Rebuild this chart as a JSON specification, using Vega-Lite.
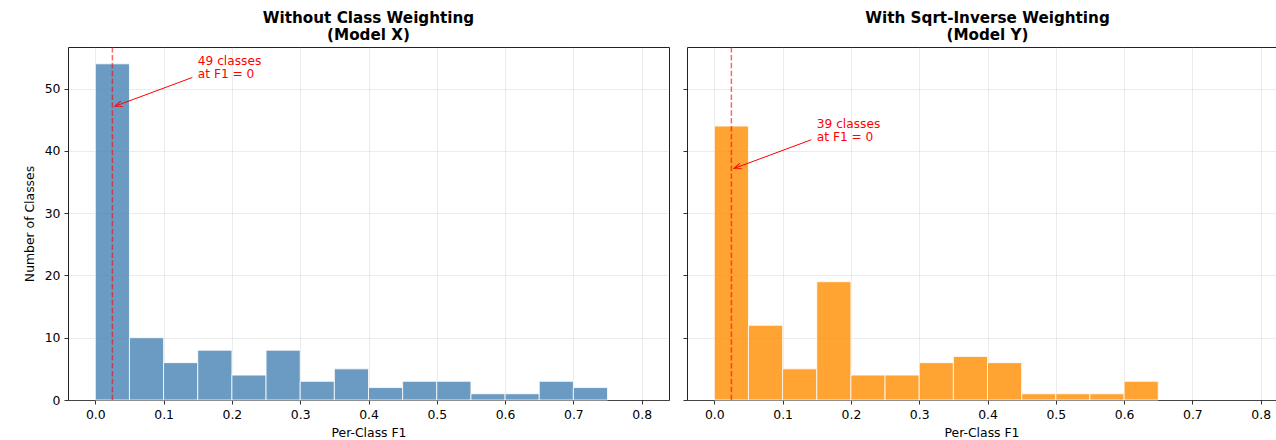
{
  "$schema": "https://vega.github.io/schema/vega-lite/v6.json",
  "padding": {"left": 22, "top": 10, "right": 0, "bottom": 0},
  "background": "white",
  "spacing": 18,
  "bounds": "flush",
  "config": {
    "font": "DejaVu Sans",
    "view": {"stroke": "#222", "strokeWidth": 1},
    "axis": {
      "domain": false,
      "tickColor": "#000",
      "tickSize": 4,
      "tickWidth": 0.8,
      "labelFontSize": 12.4,
      "labelColor": "#000",
      "labelFont": "DejaVu Sans",
      "titleFont": "DejaVu Sans",
      "titleFontSize": 12.4,
      "titleFontWeight": "normal",
      "titleColor": "#000",
      "gridColor": "#b0b0b0",
      "gridOpacity": 0.3,
      "gridWidth": 0.8,
      "labelPadding": 4
    },
    "title": {"font": "DejaVu Sans", "fontSize": 15.2, "fontWeight": "bold", "color": "#000", "lineHeight": 17, "offset": 3}
  },
  "datasets": {
    "modelX": [
      {"bin_start": 0.0, "bin_end": 0.05, "count": 54},
      {"bin_start": 0.05, "bin_end": 0.1, "count": 10},
      {"bin_start": 0.1, "bin_end": 0.15, "count": 6},
      {"bin_start": 0.15, "bin_end": 0.2, "count": 8},
      {"bin_start": 0.2, "bin_end": 0.25, "count": 4},
      {"bin_start": 0.25, "bin_end": 0.3, "count": 8},
      {"bin_start": 0.3, "bin_end": 0.35, "count": 3},
      {"bin_start": 0.35, "bin_end": 0.4, "count": 5},
      {"bin_start": 0.4, "bin_end": 0.45, "count": 2},
      {"bin_start": 0.45, "bin_end": 0.5, "count": 3},
      {"bin_start": 0.5, "bin_end": 0.55, "count": 3},
      {"bin_start": 0.55, "bin_end": 0.6, "count": 1},
      {"bin_start": 0.6, "bin_end": 0.65, "count": 1},
      {"bin_start": 0.65, "bin_end": 0.7, "count": 3},
      {"bin_start": 0.7, "bin_end": 0.75, "count": 2}
    ],
    "modelY": [
      {"bin_start": 0.0, "bin_end": 0.05, "count": 44},
      {"bin_start": 0.05, "bin_end": 0.1, "count": 12},
      {"bin_start": 0.1, "bin_end": 0.15, "count": 5},
      {"bin_start": 0.15, "bin_end": 0.2, "count": 19},
      {"bin_start": 0.2, "bin_end": 0.25, "count": 4},
      {"bin_start": 0.25, "bin_end": 0.3, "count": 4},
      {"bin_start": 0.3, "bin_end": 0.35, "count": 6},
      {"bin_start": 0.35, "bin_end": 0.4, "count": 7},
      {"bin_start": 0.4, "bin_end": 0.45, "count": 6},
      {"bin_start": 0.45, "bin_end": 0.5, "count": 1},
      {"bin_start": 0.5, "bin_end": 0.55, "count": 1},
      {"bin_start": 0.55, "bin_end": 0.6, "count": 1},
      {"bin_start": 0.6, "bin_end": 0.65, "count": 3}
    ],
    "annX": [
      {"zero_line": 0.025, "text_x": 0.15, "text_y": 52, "label": "49 classes\nat F1 = 0", "arrow_x": 0.142, "arrow_y": 51.8, "tip_x": 0.029, "tip_y": 47.2}
    ],
    "annY": [
      {"zero_line": 0.025, "text_x": 0.15, "text_y": 42, "label": "39 classes\nat F1 = 0", "arrow_x": 0.142, "arrow_y": 41.8, "tip_x": 0.029, "tip_y": 37.2}
    ]
  },
  "hconcat": [
    {
      "width": 601,
      "height": 353,
      "title": {"text": ["Without Class Weighting", "(Model X)"]},
      "layer": [
        {
          "data": {"name": "modelX"},
          "mark": {"type": "bar", "fill": "steelblue", "fillOpacity": 0.8, "stroke": "white", "strokeWidth": 0.8},
          "encoding": {
            "x": {"field": "bin_start", "type": "quantitative", "title": "Per-Class F1",
                  "scale": {"domain": [-0.04, 0.84], "nice": false, "zero": false},
                  "axis": {"values": [0, 0.1, 0.2, 0.3, 0.4, 0.5, 0.6, 0.7, 0.8], "format": ".1f", "titlePadding": 6}},
            "x2": {"field": "bin_end"},
            "y": {"field": "count", "type": "quantitative", "title": "Number of Classes",
                  "scale": {"domain": [0, 56.7], "nice": false},
                  "axis": {"values": [0, 10, 20, 30, 40, 50], "titlePadding": 8}},
            "y2": {"datum": 0}
          }
        },
        {
          "data": {"name": "annX"},
          "mark": {"type": "rule", "color": "red", "strokeDash": [5.5, 2.4], "strokeWidth": 1.5, "opacity": 0.6},
          "encoding": {"x": {"field": "zero_line", "type": "quantitative", "title": "Per-Class F1"}}
        },
        {
          "data": {"name": "annX"},
          "mark": {"type": "rule", "color": "red", "strokeWidth": 1},
          "encoding": {
            "x": {"field": "arrow_x", "type": "quantitative", "title": "Per-Class F1"},
            "y": {"field": "arrow_y", "type": "quantitative", "title": "Number of Classes"},
            "x2": {"field": "tip_x"},
            "y2": {"field": "tip_y"}
          }
        },
        {
          "data": {"name": "annX"},
          "mark": {"type": "point", "shape": "M-1,-0.4L0,0L-1,0.4", "filled": false, "color": "red", "strokeWidth": 1, "size": 196, "angle": 160, "opacity": 1},
          "encoding": {
            "x": {"field": "tip_x", "type": "quantitative", "title": "Per-Class F1"},
            "y": {"field": "tip_y", "type": "quantitative", "title": "Number of Classes"}
          }
        },
        {
          "data": {"name": "annX"},
          "mark": {"type": "text", "color": "red", "align": "left", "baseline": "alphabetic", "fontSize": 12.2, "lineBreak": "\n", "lineHeight": 13, "dy": -11},
          "encoding": {
            "x": {"field": "text_x", "type": "quantitative", "title": "Per-Class F1"},
            "y": {"field": "text_y", "type": "quantitative", "title": "Number of Classes"},
            "text": {"field": "label"}
          }
        }
      ]
    },
    {
      "width": 589,
      "height": 353,
      "title": {"text": ["With Sqrt-Inverse Weighting", "(Model Y)"], "dx": 6},
      "layer": [
        {
          "data": {"name": "modelY"},
          "mark": {"type": "bar", "fill": "darkorange", "fillOpacity": 0.8, "stroke": "white", "strokeWidth": 0.8},
          "encoding": {
            "x": {"field": "bin_start", "type": "quantitative", "title": "Per-Class F1",
                  "scale": {"domain": [-0.04, 0.8224], "nice": false, "zero": false},
                  "axis": {"values": [0, 0.1, 0.2, 0.3, 0.4, 0.5, 0.6, 0.7, 0.8], "format": ".1f", "titlePadding": 6}},
            "x2": {"field": "bin_end"},
            "y": {"field": "count", "type": "quantitative", "title": null,
                  "scale": {"domain": [0, 56.7], "nice": false},
                  "axis": {"values": [0, 10, 20, 30, 40, 50], "labels": false, "title": null}},
            "y2": {"datum": 0}
          }
        },
        {
          "data": {"name": "annY"},
          "mark": {"type": "rule", "color": "red", "strokeDash": [5.5, 2.4], "strokeWidth": 1.5, "opacity": 0.6},
          "encoding": {"x": {"field": "zero_line", "type": "quantitative", "title": "Per-Class F1"}}
        },
        {
          "data": {"name": "annY"},
          "mark": {"type": "rule", "color": "red", "strokeWidth": 1},
          "encoding": {
            "x": {"field": "arrow_x", "type": "quantitative", "title": "Per-Class F1"},
            "y": {"field": "arrow_y", "type": "quantitative", "title": null},
            "x2": {"field": "tip_x"},
            "y2": {"field": "tip_y"}
          }
        },
        {
          "data": {"name": "annY"},
          "mark": {"type": "point", "shape": "M-1,-0.4L0,0L-1,0.4", "filled": false, "color": "red", "strokeWidth": 1, "size": 196, "angle": 160, "opacity": 1},
          "encoding": {
            "x": {"field": "tip_x", "type": "quantitative", "title": "Per-Class F1"},
            "y": {"field": "tip_y", "type": "quantitative", "title": null}
          }
        },
        {
          "data": {"name": "annY"},
          "mark": {"type": "text", "color": "red", "align": "left", "baseline": "alphabetic", "fontSize": 12.2, "lineBreak": "\n", "lineHeight": 13, "dy": -11},
          "encoding": {
            "x": {"field": "text_x", "type": "quantitative", "title": "Per-Class F1"},
            "y": {"field": "text_y", "type": "quantitative", "title": null},
            "text": {"field": "label"}
          }
        }
      ]
    }
  ]
}
